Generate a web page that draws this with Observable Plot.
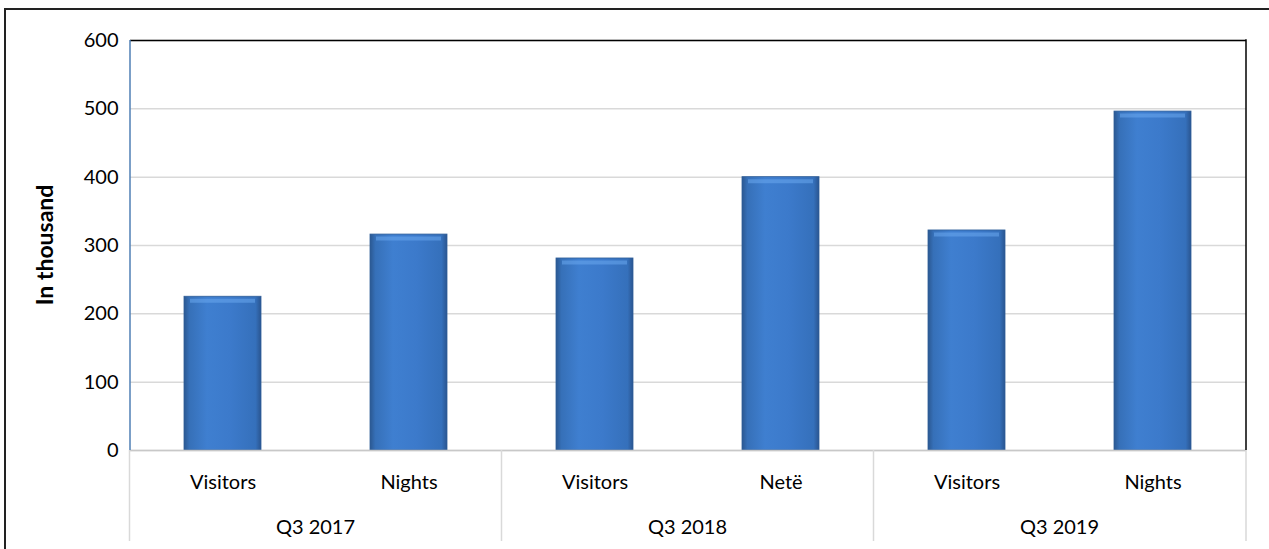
<!DOCTYPE html>
<html>
<head>
<meta charset="utf-8">
<script src="https://cdn.jsdelivr.net/npm/d3@7"></script>
<script src="https://cdn.jsdelivr.net/npm/@observablehq/plot@0.6"></script>
<style>
  html, body { margin: 0; padding: 0; background: #fff; }
  #chart { width: 1269px; height: 549px; overflow: hidden; }
</style>
</head>
<body>
<div id="chart"></div>
<script>
// ---- data ----
const keys = ["2017-V", "2017-N", "2018-V", "2018-N", "2019-V", "2019-N"];
const categoryLabels = ["Visitors", "Nights", "Visitors", "Netë", "Visitors", "Nights"];
const groupOfKey = ["Q3 2017", "Q3 2017", "Q3 2018", "Q3 2018", "Q3 2019", "Q3 2019"];
const groupLabels = ["Q3 2017", "Q3 2018", "Q3 2019"];
const values = [225, 316, 281, 400, 322, 496];
const yTicks = [0, 100, 200, 300, 400, 500, 600];
const yTitle = "In thousand";

const data = keys.map((k, i) => ({key: k, label: categoryLabels[i], group: groupOfKey[i], value: values[i]}));
const labelOf = new Map(keys.map((k, i) => [k, categoryLabels[i]]));

const FONT = "Lato, 'Open Sans', sans-serif";

const chart = Plot.plot({
  width: 1269,
  height: 549,
  marginLeft: 130,
  marginRight: 23,
  marginTop: 40,
  marginBottom: 99,
  style: {fontFamily: FONT, fontSize: "20px", color: "#000", background: "#fff"},
  x: {domain: keys, paddingInner: 0.586, paddingOuter: 0.293, label: null},
  y: {domain: [0, 600], ticks: yTicks, label: null},
  marks: [
    Plot.gridY(yTicks, {stroke: "#d9d9d9", strokeOpacity: 1, strokeWidth: 1.5}),
    Plot.barY(data, {x: "key", y: "value", fill: "url(#barGrad)", stroke: "#2f5e98", strokeWidth: 0.8}),
    Plot.tickY(data, {x: "key", y: "value", stroke: "#6aa8ee", strokeWidth: 4, dy: 4, inset: 6, strokeOpacity: 0.55}),
    Plot.ruleY([0], {stroke: "#c8c8c8", strokeWidth: 1.5}),
    Plot.ruleY([600], {stroke: "#000", strokeWidth: 1.5}),
    Plot.axisY({ticks: yTicks, tickSize: 0, tickPadding: 12, fontSize: 20, label: null}),
    Plot.axisX({tickSize: 0, tickPadding: 24, fontSize: 20, tickFormat: d => labelOf.get(d), label: null})
  ]
});

document.getElementById("chart").appendChild(chart);

// ---- decorations derived from the Plot scales ----
const svg = d3.select(chart);
const xs = chart.scale("x");
const ys = chart.scale("y");
const step = xs.step;
const bw = xs.bandwidth;
const [x0, x1] = xs.range;
const yBottom = ys.apply(0);
const yTop = ys.apply(600);

// gradient for bars
const defs = svg.insert("defs", ":first-child");
const g = defs.append("linearGradient").attr("id", "barGrad").attr("x1", "0").attr("x2", "1").attr("y1", "0").attr("y2", "0");
[[0, "#2b5891"], [0.07, "#3670b8"], [0.3, "#3f7fd0"], [0.6, "#3c7acb"], [0.93, "#3570bb"], [1, "#2a5590"]]
  .forEach(([o, c]) => g.append("stop").attr("offset", o).attr("stop-color", c));

const deco = svg.append("g").attr("class", "deco");
// left axis line (blue-gray) and right edge (black)
deco.append("line").attr("x1", x0).attr("x2", x0).attr("y1", yTop).attr("y2", yBottom)
  .attr("stroke", "#4f7fb5").attr("stroke-width", 1.5);
deco.append("line").attr("x1", x1).attr("x2", x1).attr("y1", yTop - 0.75).attr("y2", yBottom)
  .attr("stroke", "#000").attr("stroke-width", 1.5);

// group separators in category axis
const firstKeys = keys.filter((k, i) => i % 2 === 0);
const sepX = firstKeys.map(k => xs.apply(k) - (step - bw) / 2).concat([x1]);
sepX.forEach(sx => {
  deco.append("line").attr("x1", sx).attr("x2", sx).attr("y1", yBottom).attr("y2", yBottom + 91)
    .attr("stroke", "#d9d9d9").attr("stroke-width", 1.5);
});

// group labels
groupLabels.forEach((lab, gi) => {
  const cx = xs.apply(firstKeys[gi]) - (step - bw) / 2 + step;
  deco.append("text").attr("x", cx).attr("y", yBottom + 84)
    .attr("text-anchor", "middle").attr("font-family", FONT).attr("font-size", 20).attr("fill", "#000")
    .text(lab);
});

// y title
deco.append("text")
  .attr("transform", `translate(53,${(yTop + yBottom) / 2}) rotate(-90)`)
  .attr("text-anchor", "middle").attr("font-family", FONT).attr("font-size", 23).attr("font-weight", "bold")
  .attr("fill", "#000").text(yTitle);

// outer chart border
deco.append("rect").attr("x", 5).attr("y", 9).attr("width", 1290).attr("height", 580)
  .attr("fill", "none").attr("stroke", "#222").attr("stroke-width", 2);
</script>
</body>
</html>
